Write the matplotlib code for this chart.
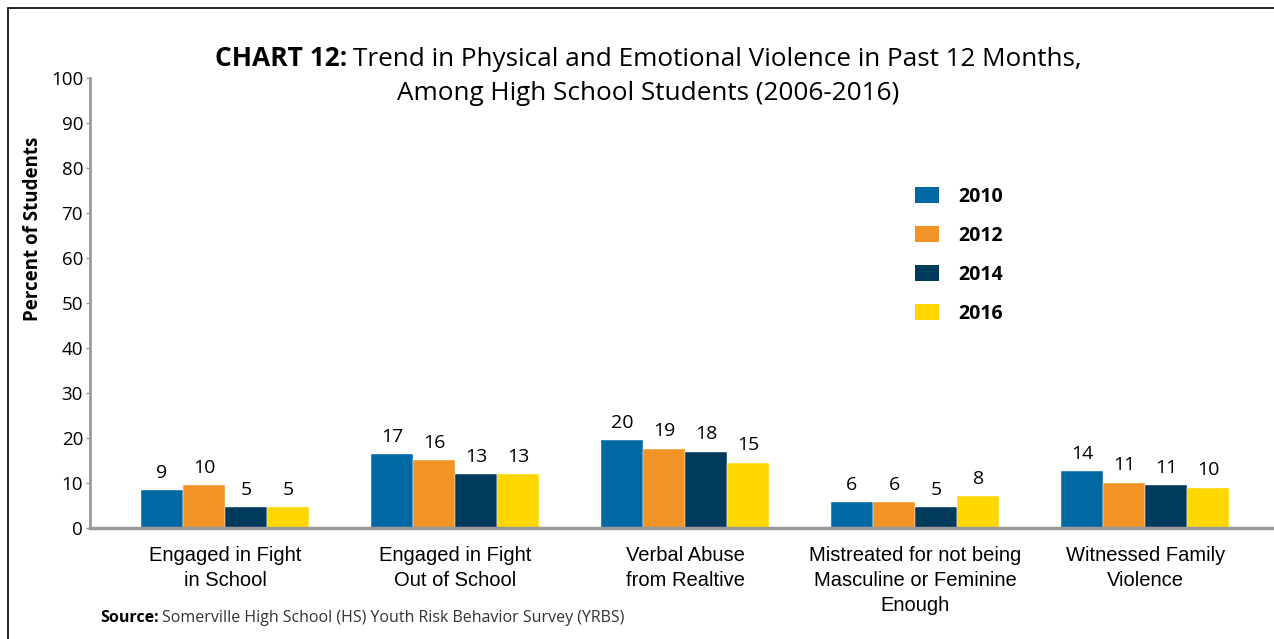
import numpy as np
import matplotlib
matplotlib.use('Agg')
import matplotlib.pyplot as plt
from matplotlib.patches import Patch, Rectangle

# Data
categories = ['Engaged in Fight\nin School', 'Engaged in Fight\nOut of School',
              'Verbal Abuse\nfrom Realtive',
              'Mistreated for not being\nMasculine or Feminine\nEnough',
              'Witnessed Family\nViolence']
years = ['2010', '2012', '2014', '2016']
values_2010 = [8.4, 16.4, 19.5, 5.8, 12.7]
values_2012 = [9.55, 15.1, 17.6, 5.8, 10.1]
values_2014 = [4.6, 12.0, 17.0, 4.6, 9.55]
values_2016 = [4.6, 12.0, 14.5, 7.1, 8.95]
labels_2010 = ['9', '17', '20', '6', '14']
labels_2012 = ['10', '16', '19', '6', '11']
labels_2014 = ['5', '13', '18', '5', '11']
labels_2016 = ['5', '13', '15', '8', '10']
colors = ['#0069A3', '#F39325', '#003A5D', '#FFD700']

series = [values_2010, values_2012, values_2014, values_2016]
series_labels = [labels_2010, labels_2012, labels_2014, labels_2016]

W, H = 1274, 639
fig = plt.figure(figsize=(W / 100, H / 100), dpi=100)

# outer frame (cropped on right/bottom)
fig.patches.append(Rectangle((8 / W, -0.1), 1.2, 1 - 8 / H + 0.1, transform=fig.transFigure,
                             fill=False, edgecolor='black', linewidth=1.2))

ax = fig.add_axes([90 / W, 1 - 528 / H, 1 - 90 / W, (528 - 78) / H])

x = np.arange(len(categories))
bw = 0.183
for i, (vals, labs) in enumerate(zip(series, series_labels)):
    pos = x + (i - 1.5) * bw
    ax.bar(pos, vals, width=bw, color=colors[i], edgecolor='white', linewidth=0.3)
    for px, v, lab in zip(pos, vals, labs):
        ax.annotate(lab, (px, v), xytext=(0, 6), textcoords='offset points',
                    ha='center', va='bottom', fontsize=14, family='Open Sans')

ax.set_xlim(-0.587, 4.56)
ax.set_ylim(0, 100)
ax.set_yticks(range(0, 101, 10))
ax.tick_params(axis='y', length=3, width=1, color='#999999', labelsize=13.5, pad=2)
ax.tick_params(axis='x', length=0, pad=13)
ax.set_xticks(x)
ax.set_xticklabels(categories, fontsize=14.5, family='Liberation Sans', linespacing=1.4)
for lbl in ax.get_yticklabels():
    lbl.set_family('Open Sans')
for s in ['top', 'right']:
    ax.spines[s].set_visible(False)
ax.spines['left'].set_color('#999999')
ax.spines['left'].set_linewidth(2)
ax.spines['bottom'].set_color('#999999')
ax.spines['bottom'].set_linewidth(2.5)

# title
t1 = fig.text(215 / W, 1 - 59 / H, 'CHART 12:', fontsize=19, fontweight='bold',
              family='Open Sans', va='center', ha='left')
fig.canvas.draw()
bb = t1.get_window_extent()
fig.text(bb.x1 / W + 6 / W, 1 - 59 / H, 'Trend in Physical and Emotional Violence in Past 12 Months,',
         fontsize=18.8, family='Open Sans', va='center', ha='left')
fig.text(648 / W, 1 - 93 / H, 'Among High School Students (2006-2016)', fontsize=18.8,
         family='Open Sans', va='center', ha='center')

fig.text(33 / W, 1 - 229 / H, 'Percent of Students', rotation=90, fontsize=13.5,
         fontweight='bold', family='Open Sans', va='center', ha='center')

handles = [Patch(facecolor=c, label=y) for c, y in zip(colors, years)]
leg = ax.legend(handles=handles, loc='upper left', bbox_to_anchor=(897 / W, 1 - 169 / H),
                bbox_transform=fig.transFigure, frameon=False, prop={'family': 'Open Sans',
                'weight': 'bold', 'size': 14}, handlelength=1.25, handleheight=0.9,
                handletextpad=1.0, labelspacing=0.98)

t2 = fig.text(100 / W, 1 - 618 / H, 'Source:', fontsize=11.5, fontweight='bold',
              family='Open Sans', va='center', ha='left')
fig.canvas.draw()
bb = t2.get_window_extent()
fig.text(bb.x1 / W + 3 / W, 1 - 618 / H,
         'Somerville High School (HS) Youth Risk Behavior Survey (YRBS)',
         fontsize=11.5, family='Open Sans', va='center', ha='left', color='#333333')

plt.savefig('out.png', dpi=100)
